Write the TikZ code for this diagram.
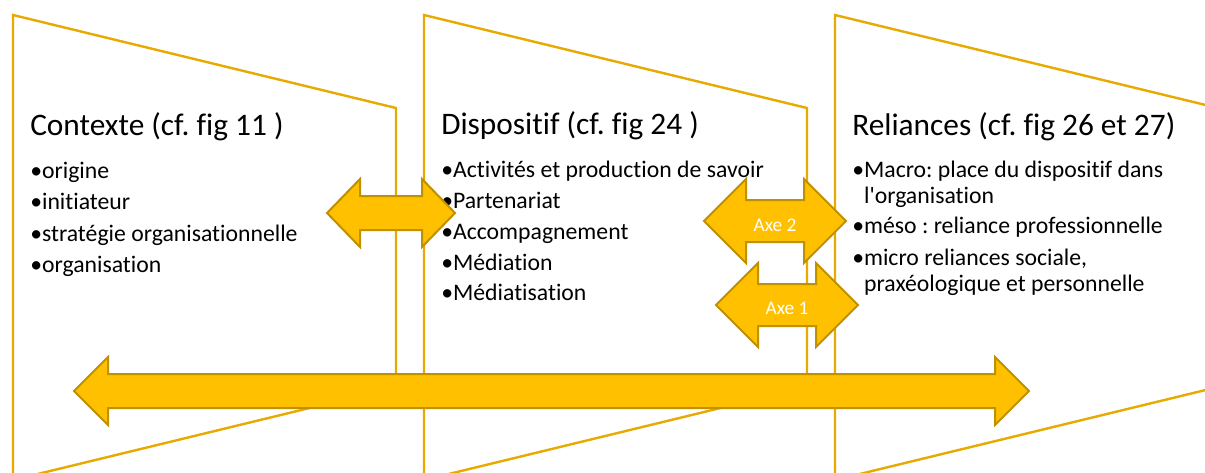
\documentclass[tikz,border=0pt]{standalone}
\usepackage{fontspec}
\setmainfont{Carlito}[Ligatures=NoCommon]
\frenchspacing
\definecolor{panneauor}{RGB}{232,170,0}
\definecolor{flecheor}{RGB}{255,192,0}
\definecolor{flechebord}{RGB}{191,144,0}
% double arrow: name, left tip x, right tip x, centre y, head length, head half width, shaft half width
\newcommand{\flechedouble}[7]{\draw[fleche] (#2,#4) -- (#2+#5,#4-#6) -- (#2+#5,#4-#7) -- (#3-#5,#4-#7) -- (#3-#5,#4-#6) -- (#3,#4) -- (#3-#5,#4+#6) -- (#3-#5,#4+#7) -- (#2+#5,#4+#7) -- (#2+#5,#4+#6) -- cycle;
	\coordinate (#1) at ({(#2+#3)/2},#4);}
\tikzset{
	panneau/.style={draw=panneauor, line width=1.8pt, fill=white, line join=miter},
	fleche/.style={draw=flechebord, fill=flecheor, line width=1.5pt, line join=miter},
	titre/.style={anchor=base west, inner sep=0pt, font=\fontsize{23.5}{28}\selectfont},
	puce/.style={anchor=base west, inner sep=0pt, align=left, font=\fontsize{17.8}{19.5}\selectfont},
	axe/.style={inner sep=0pt, text=white, font=\fontsize{14.5}{17}\selectfont}
}

\begin{document}
\begin{tikzpicture}[x=0.75pt, y=-0.75pt]
			%%%%% START %%%%%
			
			\useasboundingbox[fill=white] (0, 0) rectangle (1205, 472);
			
			% panels
			\draw[panneau] (13, 15) -- (396, 108) -- (396, 387) -- (13, 480) -- cycle;
			\draw[panneau] (424, 15) -- (807, 108) -- (807, 387) -- (424, 480) -- cycle;
			\draw[panneau] (835, 15) -- (1218, 108) -- (1218, 387) -- (835, 480) -- cycle;
			
			% Contexte
			\node[titre] (contexte) at (30, 135) {Contexte (cf. fig 11 )};
			\node[puce] (origine) at (30, 178) {•origine};
			\node[puce] (initiateur) at (30, 209) {•initiateur};
			\node[puce] (strategie) at (30, 241) {•stratégie organisationnelle};
			\node[puce] (organisation) at (30, 272) {•organisation};
			
			% Dispositif
			\node[titre] (dispositif) at (441, 134) {Dispositif (cf. fig 24 )};
			\node[puce] (activites) at (441, 177) {•Activités et production de savoir};
			\node[puce] (partenariat) at (441, 208) {•Partenariat};
			\node[puce] (accompagnement) at (441, 239) {•Accompagnement};
			\node[puce] (mediation) at (441, 270) {•Médiation};
			\node[puce] (mediatisation) at (441, 300) {•Médiatisation};
			
			% Reliances (two-line nodes sit on their last baseline)
			\node[titre] (reliances) at (852, 135) {Reliances (cf. fig 26 et 27)};
			\node[puce] (macro) at (852, 203) {•Macro: place du dispositif dans\\\phantom{•}l\textquotesingle organisation};
			\node[puce] (meso) at (852, 233) {•méso : reliance professionnelle};
			\node[puce] (micro) at (852, 291) {•micro reliances sociale,\\\phantom{•}praxéologique et personnelle};
			
			% arrows
			\flechedouble{fcontexte}{327}{455}{213}{33}{34}{17}
			\flechedouble{faxedeux}{704}{846}{221}{42}{42}{21}
			\flechedouble{faxeun}{716}{858}{305}{42}{42}{21}
			\flechedouble{fgrande}{74}{1029}{391}{34}{34}{17}
			
			\node[axe] (axedeux) at (775, 225) {Axe 2};
			\node[axe] (axeun) at (787, 308) {Axe 1};
			
			%%%%% END %%%%%
\end{tikzpicture}
\end{document}
